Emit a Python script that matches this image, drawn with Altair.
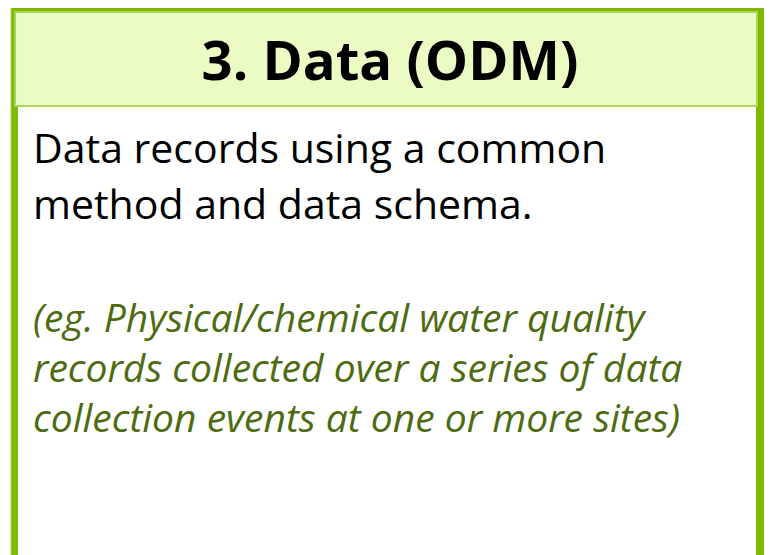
import altair as alt
import pandas as pd

# ---- content ----
title_text = ["3. Data (ODM)"]
body_lines = ["Data records using a common", "method and data schema."]
example_lines = [
    "(eg. Physical/chemical water quality",
    "records collected over a series of data",
    "collection events at one or more sites)",
]

# ---- layout (page pixel coordinates) ----
FONT = "Open Sans"
W, H = 756, 547          # drawable area: page x 8..764, y 8..555
RIGHT = 764              # rightmost reachable page x
xs = alt.Scale(domain=[8, 8 + W], nice=False, zero=False)
ys = alt.Scale(domain=[8, 8 + H], nice=False, zero=False, reverse=True)

def rect_layer(x, x2, y, y2, fill, stroke=None, sw=0):
    df = pd.DataFrame({"x": [x], "x2": [x2], "y": [y], "y2": [y2]})
    kw = dict(fill=fill, clip=True)
    if stroke:
        kw.update(stroke=stroke, strokeWidth=sw)
    return alt.Chart(df).mark_rect(**kw).encode(
        x=alt.X("x:Q", scale=xs, axis=None),
        x2="x2:Q",
        y=alt.Y("y:Q", scale=ys, axis=None),
        y2="y2:Q",
    )

frame = rect_layer(11, RIGHT + 2, 3, 580, "#80B800", "#A9D65A", 1)
inner = rect_layer(18, RIGHT - 8, 12, 580, "#FFFFFF")
header = rect_layer(15, RIGHT - 7, 12, 106, "#EAFBC4", "#A9D65A", 2)

def text_layer(lines, x0, y0, step, size, color, align="left", weight="normal", style="normal"):
    df = pd.DataFrame({"t": lines, "i": list(range(len(lines)))})
    df["x"] = x0
    df["y"] = y0 + df["i"] * step
    return alt.Chart(df).mark_text(
        align=align, baseline="alphabetic", font=FONT, fontSize=size,
        fontWeight=weight, fontStyle=style, color=color,
    ).encode(
        x=alt.X("x:Q", scale=xs, axis=None),
        y=alt.Y("y:Q", scale=ys, axis=None),
        text="t:N",
    )

title = text_layer(title_text, 390, 80, 0, 54.5, "#000000", align="center", weight="bold")
body = text_layer(body_lines, 33, 163, 56, 41, "#000000")
example = text_layer(example_lines, 33, 332, 50, 39, "#4E6B12", style="italic")

chart = alt.layer(frame, inner, header, title, body, example).properties(
    width=W, height=H, padding=0, autosize=alt.AutoSizeParams(type="none")
).configure_view(stroke=None)

chart.save("out.html", embed_options={"renderer": "svg", "actions": False})
